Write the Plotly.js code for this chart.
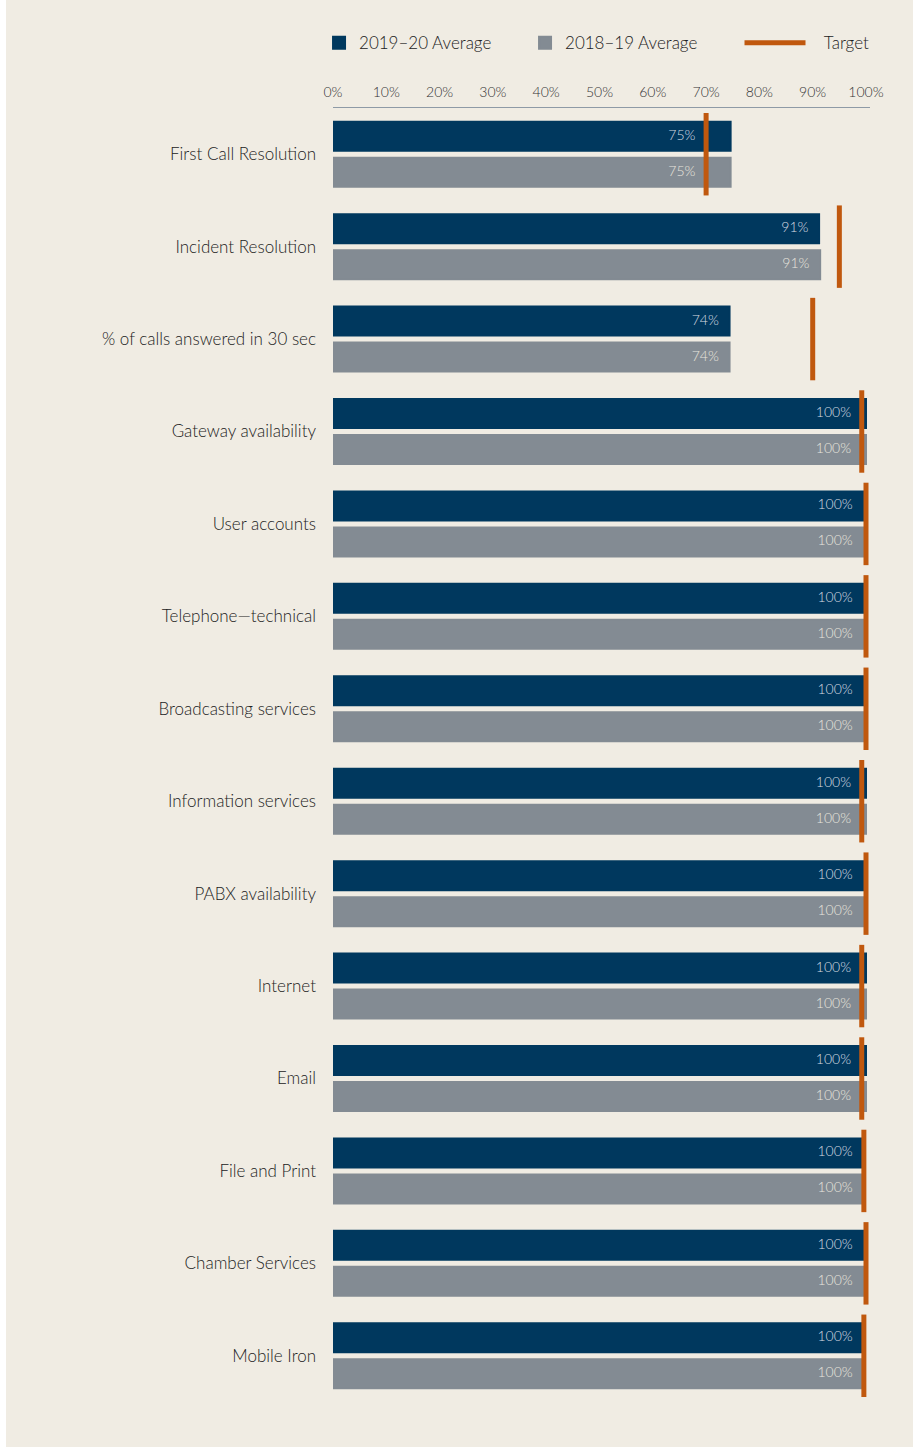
<!DOCTYPE html>
<html>
<head>
<meta charset="utf-8">
<script src="https://cdn.plot.ly/plotly-3.0.1.min.js"></script>
<style>
  html, body { margin: 0; padding: 0; background: #ffffff; }
  #chart { position: absolute; left: 6px; top: 0; width: 907px; height: 1447px; }
</style>
</head>
<body>
<div id="chart"></div>
<script>
// ---- Data ----
const categories = [
  "First Call Resolution",
  "Incident Resolution",
  "% of calls answered in 30 sec",
  "Gateway availability",
  "User accounts",
  "Telephone\u2014technical",
  "Broadcasting services",
  "Information services",
  "PABX availability",
  "Internet",
  "Email",
  "File and Print",
  "Chamber Services",
  "Mobile Iron"
];
const avg2019_20 = [74.6, 91.2, 74.4, 100, 99.5, 99.5, 99.5, 100, 99.5, 100, 100, 99.5, 99.5, 99.5];
const avg2018_19 = [74.6, 91.4, 74.4, 100, 99.5, 99.5, 99.5, 100, 99.5, 100, 100, 99.5, 99.5, 99.5];
const targets    = [70, 95, 90, 99.2, 100, 100, 100, 99.2, 100, 99.2, 99.2, 99.6, 100, 99.6];
const xTickVals  = [0, 10, 20, 30, 40, 50, 60, 70, 80, 90, 100];
const xTickText  = ["0%", "10%", "20%", "30%", "40%", "50%", "60%", "70%", "80%", "90%", "100%"];

// ---- Styling ----
const NAVY = "#00385e";
const GREY = "#838b93";
const ORANGE = "#c0580e";
const BG = "#f0ece3";
const FONT = "Lato, 'Liberation Sans', sans-serif";

const idx = categories.map((_, i) => i);
const BAR_W = 0.3138;
const OFF_TOP = -0.3517;
const OFF_BOT = 0.0379;

const pct = v => Math.round(v) + "%";

const traces = [
  {
    type: "bar", orientation: "h", name: "2019\u201320 Average",
    x: avg2019_20, y: idx, width: BAR_W, offset: OFF_TOP,
    marker: { color: NAVY, line: { color: NAVY, width: 2 } }, hoverinfo: "skip", legend: "legend"
  },
  {
    type: "bar", orientation: "h", name: "2018\u201319 Average",
    x: avg2018_19, y: idx, width: BAR_W, offset: OFF_BOT,
    marker: { color: GREY, line: { color: GREY, width: 2 } }, hoverinfo: "skip", legend: "legend"
  },
  {
    type: "scatter", mode: "lines", name: "\u00a0\u00a0\u00a0Target", legend: "legend2",
    x: targets.flatMap(t => [t, t, null]),
    y: idx.flatMap(i => [i - 0.446, i + 0.446, null]),
    line: { color: ORANGE, width: 5 }, hoverinfo: "skip"
  },
  {
    type: "scatter", mode: "text", showlegend: false,
    x: avg2019_20.map((v, i) => Math.min(v, targets[i]) - 2.0),
    y: idx.map(i => i + OFF_TOP + BAR_W / 2),
    text: avg2019_20.map(pct), textposition: "middle left",
    textfont: { family: FONT, size: 14, weight: 300, color: "#d7dbe0" }, hoverinfo: "skip"
  },
  {
    type: "scatter", mode: "text", showlegend: false,
    x: avg2018_19.map((v, i) => Math.min(v, targets[i]) - 2.0),
    y: idx.map(i => i + OFF_BOT + BAR_W / 2),
    text: avg2018_19.map(pct), textposition: "middle left",
    textfont: { family: FONT, size: 14, weight: 300, color: "#e8e5de" }, hoverinfo: "skip"
  }
];

const layout = {
  width: 907, height: 1447,
  paper_bgcolor: BG, plot_bgcolor: BG,
  margin: { l: 327, r: 43, t: 108, b: 45 },
  barmode: "overlay",
  font: { family: FONT, color: "#2a2a2a" },
  showlegend: true,
  xaxis: {
    side: "top", range: [0, 100.75], fixedrange: true,
    tickvals: xTickVals, ticktext: xTickText,
    showgrid: false, zeroline: false,
    showline: true, linecolor: "#8e9aa6", linewidth: 1,
    ticks: "", ticklabelstandoff: 4,
    tickfont: { family: FONT, size: 14, weight: 300, color: "#333333" }
  },
  yaxis: {
    range: [13.5, -0.5], fixedrange: true,
    tickvals: idx, ticktext: categories,
    showgrid: false, zeroline: false, showline: false,
    ticks: "", ticklabelstandoff: 16,
    tickfont: { family: FONT, size: 17, weight: 300, color: "#222222" }
  },
  legend: {
    orientation: "h", x: -0.026, xanchor: "left", y: 1.050, yanchor: "middle",
    font: { family: FONT, size: 17, weight: 300, color: "#222222" },
    bgcolor: "rgba(0,0,0,0)", traceorder: "normal",
    entrywidth: 161, entrywidthmode: "pixels"
  },
  legend2: {
    orientation: "h", x: 0.757, xanchor: "left", y: 1.050, yanchor: "middle",
    font: { family: FONT, size: 17, weight: 300, color: "#222222" },
    bgcolor: "rgba(0,0,0,0)", itemwidth: 61
  }
};

Plotly.newPlot("chart", traces, layout, { displayModeBar: false, staticPlot: true });
</script>
</body>
</html>
